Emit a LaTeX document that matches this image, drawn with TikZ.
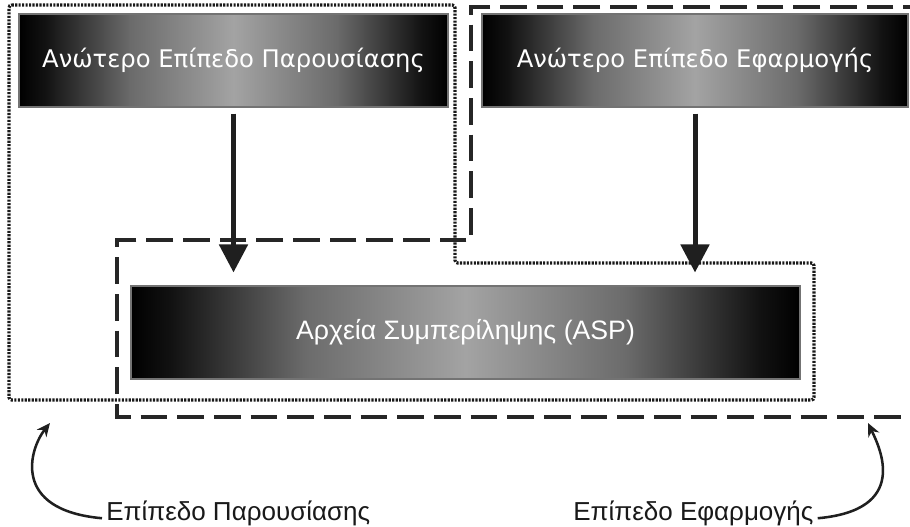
\documentclass[tikz,border=0pt]{standalone}
\usepackage{fontspec}
\newfontfamily\boxfont{DejaVu Sans}
\newfontfamily\lblfont{Liberation Sans}
\usetikzlibrary{arrows.meta}
\pgfdeclarehorizontalshading{boxshade}{100bp}{color(0bp)=(black); color(25bp)=(black); color(28bp)=(black!93); color(38bp)=(black!58); color(50bp)=(black!36); color(62bp)=(black!58); color(72bp)=(black!93); color(75bp)=(black); color(100bp)=(black)}
\begin{document}
\begin{tikzpicture}[x=0.75pt,y=-0.75pt,
  layerbox/.style={shading=boxshade, draw=black!55, line width=0.8pt, text=white, inner sep=0pt, minimum height=69.75pt},
  toptext/.style={font=\boxfont\fontsize{18.2pt}{22pt}\selectfont},
  asptext/.style={font=\lblfont\fontsize{20pt}{24pt}\selectfont},
  lbl/.style={font=\lblfont\fontsize{19.5pt}{23pt}\selectfont, text=black!90, inner sep=3pt, anchor=base west},
  bigarrow/.style={line width=3.75pt, draw=black!88, -{Triangle[width=21pt,length=21pt]}, shorten <=4.5pt, shorten >=9.75pt},
  curvearrow/.style={line width=1.9pt, draw=black!88, -{Stealth[length=10pt,width=9pt]}},
  dottedzone/.style={draw=black!90, line width=2.4pt, dash pattern=on 1.6pt off 1pt, rounded corners=2pt},
  dashedzone/.style={draw=black!85, line width=2.7pt, dash pattern=on 20pt off 7.5pt}
]
\useasboundingbox (0,0) rectangle (910,526);
\clip (0,0) rectangle (910,526);
\fill[white] (0,0) rectangle (910,526);

% zones
\draw[dottedzone] (9,5) -- (455,5) -- (455,263) -- (814,263) -- (814,400) -- (9,400) -- cycle;
\draw[dashedzone] (930,7) -- (471,7) -- (471,240) -- (117,240) -- (117,417) -- (930,417);

% boxes
\node[layerbox, toptext, minimum width=321.75pt] (pres) at (233.5,60.5) {Ανώτερο Επίπεδο Παρουσίασης};
\node[layerbox, toptext, minimum width=319.5pt] (app) at (695,60.5) {Ανώτερο Επίπεδο Εφαρμογής};
\node[layerbox, asptext, minimum width=501.75pt] (asp) at (465.5,332.5) {Αρχεία Συμπερίληψης (ASP)};

% arrows
\draw[bigarrow] (pres.south) -- (pres.south |- asp.north);
\draw[bigarrow] (app.south) -- (app.south |- asp.north);

% labels
\node[lbl] (lblpres) at (102,520) {Επίπεδο Παρουσίασης};
\node[lbl] (lblapp) at (569,520) {Επίπεδο Εφαρμογής};
\coordinate (tipL) at (50,423);
\coordinate (tipR) at (868,423);
\draw[curvearrow] ([yshift=-4pt]lblpres.west) .. controls (10,510) and (30,448) .. (tipL);
\draw[curvearrow] ([yshift=-4pt]lblapp.east) .. controls (910,510) and (880,448) .. (tipR);
\end{tikzpicture}
\end{document}
